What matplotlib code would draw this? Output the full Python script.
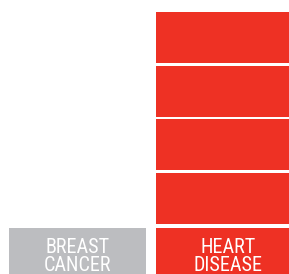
import matplotlib.pyplot as plt

categories = ["BREAST\nCANCER", "HEART\nDISEASE"]
blocks = [0, 4]
label_colors = ["#bcbdc0", "#ee3124"]
block_color = "#ee3124"

fig = plt.figure(figsize=(2.89, 2.74), dpi=100)
ax = fig.add_axes([0, 0, 1, 1])

widths = [0.932, 0.993]
block_h = 0.951
for i, cat in enumerate(categories):
    # stacked unit blocks
    for k in range(blocks[i]):
        ax.bar(i, block_h, width=widths[i], bottom=k, align='edge',
               color=block_color, linewidth=0)
    # label box under the column
    ax.bar(i, -1.0, width=widths[i], bottom=-0.071, align='edge',
           color=label_colors[i], linewidth=0)
    ax.text(i + widths[i] / 2, -0.61, cat, ha='center', va='center',
            color='white', fontsize=14.5, family=['Roboto Condensed', 'DejaVu Sans'],
            linespacing=0.95)

ax.set_xlim(-0.065, 1.914)
ax.set_ylim(-0.933, 4.179)
ax.axis('off')
fig.savefig("out.png", dpi=100)
